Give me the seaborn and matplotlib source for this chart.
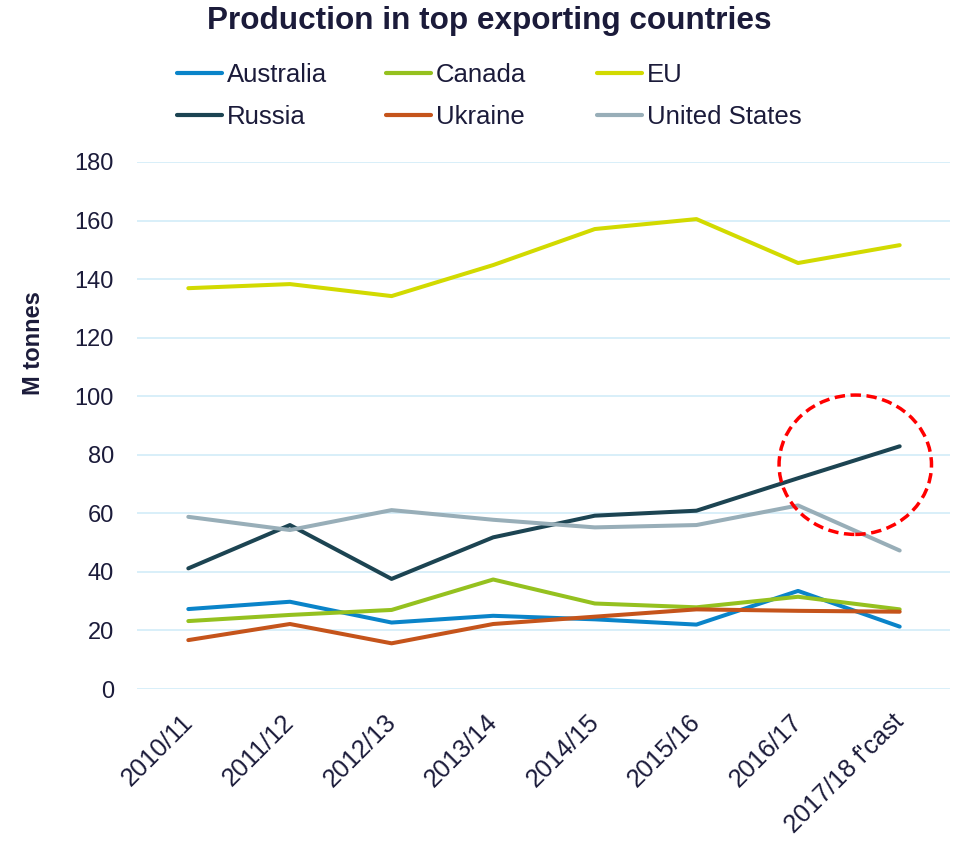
import matplotlib
matplotlib.use("Agg")
import matplotlib.pyplot as plt
import matplotlib.transforms as mtransforms
from matplotlib.patches import Ellipse
import numpy as np
import pandas as pd
import seaborn as sns

seasons = ["2010/11", "2011/12", "2012/13", "2013/14", "2014/15",
           "2015/16", "2016/17", "2017/18 f'cast"]

australia = [27.3, 29.8, 22.7, 25.0, 23.8, 22.0, 33.5, 21.3]
canada = [23.2, 25.3, 27.0, 37.4, 29.2, 27.9, 31.5, 27.2]
eu = [136.9, 138.3, 134.2, 144.8, 157.1, 160.5, 145.5, 151.6]
russia = [41.2, 56.0, 37.6, 51.8, 59.2, 60.9, 72.0, 82.9]
ukraine = [16.7, 22.2, 15.6, 22.2, 24.7, 27.2, 26.7, 26.4]
united_states = [58.8, 54.3, 61.1, 57.8, 55.2, 56.0, 62.7, 47.3]

series = {
    "Australia": australia,
    "Canada": canada,
    "EU": eu,
    "Russia": russia,
    "Ukraine": ukraine,
    "United States": united_states,
}
palette = {
    "Australia": "#0A84C9",
    "Canada": "#95C11F",
    "EU": "#D2DA00",
    "Russia": "#1C4452",
    "Ukraine": "#C5541B",
    "United States": "#98AEB8",
}

rows = []
for country, vals in series.items():
    for i, v in enumerate(vals):
        rows.append({"season": i, "country": country, "value": v})
df = pd.DataFrame(rows)

sns.set_theme(style="white")
plt.rcParams["font.family"] = ["Liberation Sans", "DejaVu Sans"]
text_color = "#1B1B3A"

W, H = 954, 841
fig = plt.figure(figsize=(W / 100, H / 100), dpi=100)
ax = fig.add_axes([137.5 / W, 1 - 689 / H, 813 / W, 527 / H])

sns.lineplot(data=df, x="season", y="value", hue="country",
             palette=palette, linewidth=2.9, ax=ax, legend=True)
handles, labels = ax.get_legend_handles_labels()
ax.get_legend().remove()

ax.set_xlim(-0.5, 7.5)
ax.set_ylim(0, 180)
ax.set_yticks(np.arange(0, 181, 20))
ax.set_xticks(range(len(seasons)))
ax.set_xticklabels(seasons, rotation=45, ha="right", va="top",
                   rotation_mode="anchor")
ax.tick_params(axis="y", labelsize=17, colors=text_color, length=0, pad=17)
ax.tick_params(axis="x", labelsize=18.3, colors=text_color, length=0, pad=15)
shift = mtransforms.ScaledTranslation(-8 / 100, 0, fig.dpi_scale_trans)
for lbl in ax.get_xticklabels():
    lbl.set_transform(lbl.get_transform() + shift)
ax.grid(axis="y", color="#D6EEF9", linewidth=1.3)
ax.set_axisbelow(True)
for s in ax.spines.values():
    s.set_visible(False)

ax.set_xlabel("")
ax.set_ylabel("M tonnes", fontsize=17, fontweight="bold", color=text_color)
ax.yaxis.set_label_coords(-0.114, 0.656)

# dashed highlight around the Russian forecast
ring = Ellipse((6.563, 76.6), width=1.50, height=47.6, fill=False,
               edgecolor="#FF0000", linewidth=2.5, linestyle=(0, (3.0, 1.6)),
               zorder=5, clip_on=False)
ax.add_patch(ring)

# legend laid out as three fixed columns of two rows each
fs = 18.5
fs_px = fs * 100 / 72
by_label = dict(zip(labels, handles))
columns = [["Australia", "Russia"], ["Canada", "Ukraine"],
           ["EU", "United States"]]
col_x = [177, 386, 597]
for names, x in zip(columns, col_x):
    leg = fig.legend([by_label[n] for n in names], names,
                     loc="center left", bbox_to_anchor=(x / W, 1 - 96 / H),
                     frameon=False, fontsize=fs, borderpad=0,
                     borderaxespad=0, handlelength=45 / fs_px,
                     handletextpad=5 / fs_px, labelspacing=0.73,
                     labelcolor=text_color)
    for line in leg.get_lines():
        line.set_linewidth(3.0)

fig.text(489 / W, 1 - 21 / H, "Production in top exporting countries",
         ha="center", va="center", fontsize=22.7, fontweight="bold",
         color=text_color)

fig.savefig("out.png", dpi=100)
